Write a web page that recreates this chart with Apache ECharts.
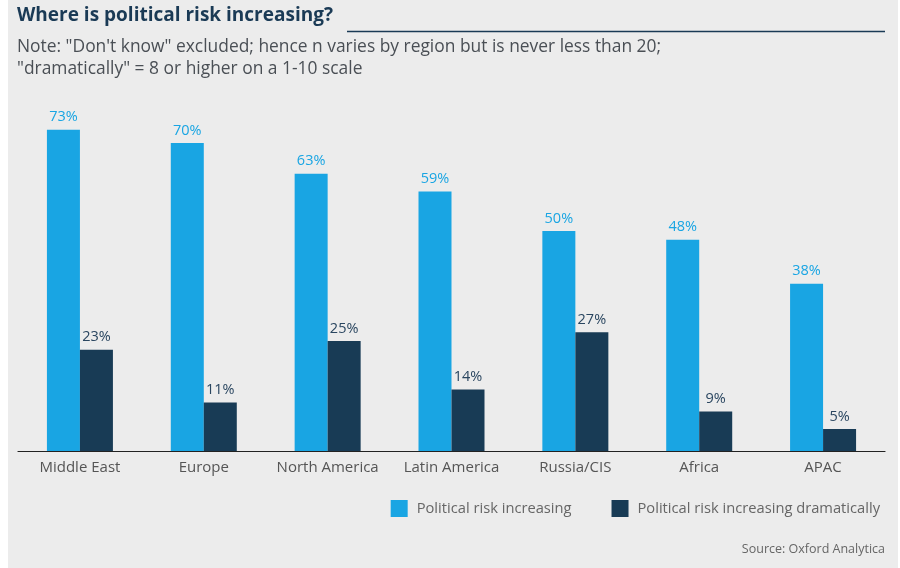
<!DOCTYPE html>
<html>
<head>
<meta charset="utf-8">
<script src="https://cdn.jsdelivr.net/npm/echarts@6/dist/echarts.min.js"></script>
<style>
  html, body { margin: 0; padding: 0; background: #fff; }
  #chart { width: 900px; height: 568px; }
</style>
</head>
<body>
<div id="chart"></div>
<script>
var regions = ['Middle East', 'Europe', 'North America', 'Latin America', 'Russia/CIS', 'Africa', 'APAC'];
var riskIncreasing = [73, 70, 63, 59, 50, 48, 38];
var riskDramatic = [23, 11, 25, 14, 27, 9, 5];

var lightBlue = '#19a5e3';
var darkBlue = '#183b55';
var font = 'Open Sans';

var chart = echarts.init(document.getElementById('chart'));

var option = {
  backgroundColor: '#fff',
  animation: false,
  textStyle: { fontFamily: font },
  graphic: [
    { type: 'rect', z: -10, shape: { x: 8, y: 0, width: 890, height: 568 }, style: { fill: '#ececec' } },
    { type: 'text', left: 17, top: 6, style: { text: 'Where is political risk increasing?', font: 'bold 19px ' + font, fill: '#1a3a55' } },
    { type: 'line', shape: { x1: 347, y1: 31.5, x2: 885, y2: 31.5 }, style: { stroke: '#1a3a55', lineWidth: 1.3 } },
    { type: 'text', left: 17, top: 36, style: { text: 'Note: "Don\'t know" excluded; hence n varies by region but is never less than 20;\n"dramatically" = 8 or higher on a 1-10 scale', font: '17.4px ' + font, fill: '#4a4f55', lineHeight: 22 } },
    { type: 'text', right: 15, top: 543, style: { text: 'Source: Oxford Analytica', font: '12.5px ' + font, fill: '#666' } }
  ],
  legend: {
    right: 15,
    top: 495,
    itemWidth: 17,
    itemHeight: 17,
    itemGap: 40,
    icon: 'rect',
    textStyle: { color: '#666', fontSize: 14.7, fontFamily: font, padding: [0, 0, 0, 4] },
    data: ['Political risk increasing', 'Political risk increasing dramatically']
  },
  grid: { left: 18, right: 15, top: 99, bottom: 117, containLabel: false },
  xAxis: {
    type: 'category',
    data: regions,
    axisLine: { lineStyle: { color: '#222', width: 1.2 } },
    axisTick: { show: false },
    axisLabel: { interval: 0, color: '#555', fontSize: 15, margin: 9, fontFamily: font }
  },
  yAxis: {
    type: 'value',
    min: 0,
    max: 80,
    show: false,
    splitLine: { show: false }
  },
  series: [
    {
      name: 'Political risk increasing',
      type: 'bar',
      data: riskIncreasing,
      barWidth: 33,
      barGap: '0%',
      itemStyle: { color: lightBlue },
      label: { show: true, position: 'top', distance: 5, formatter: '{c}%', color: lightBlue, fontSize: 14.5, fontFamily: font }
    },
    {
      name: 'Political risk increasing dramatically',
      type: 'bar',
      data: riskDramatic,
      barWidth: 33,
      barGap: '0%',
      itemStyle: { color: darkBlue },
      label: { show: true, position: 'top', distance: 5, formatter: '{c}%', color: '#2a4660', fontSize: 14.5, fontFamily: font }
    }
  ]
};

chart.setOption(option);
</script>
</body>
</html>
